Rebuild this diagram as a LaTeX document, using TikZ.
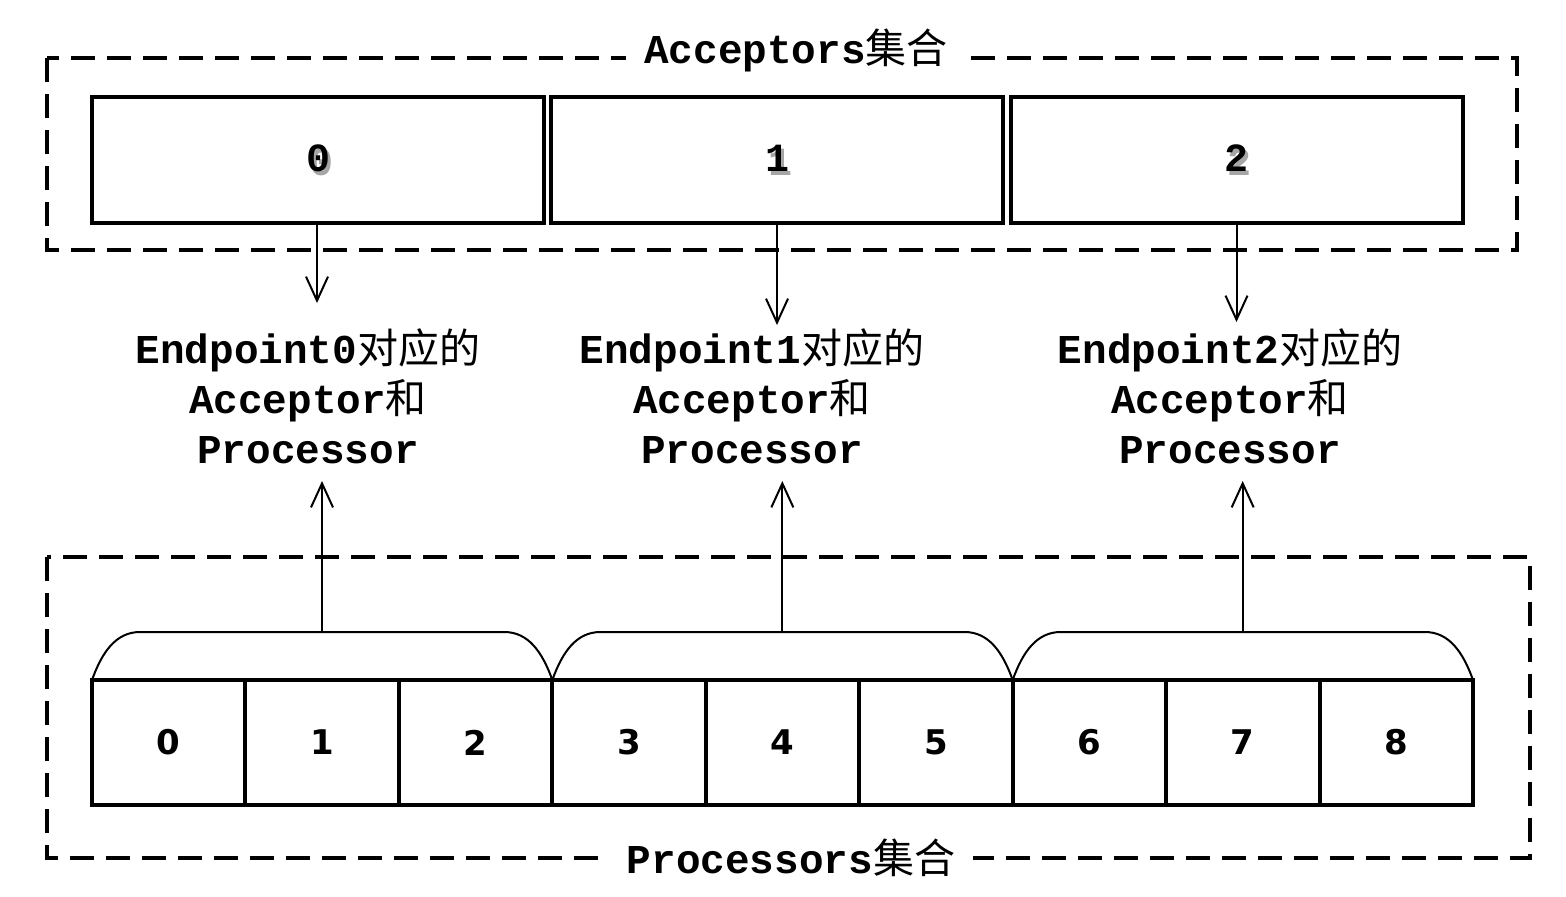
\documentclass[tikz,border=0pt]{standalone}
\usepackage{fontspec}
\usepackage{tikz}
\usetikzlibrary{arrows.meta}
\newfontfamily\codefont{Liberation Mono}
\newfontfamily\cjkfont{Noto Sans CJK SC}
\newfontfamily\digitfont{DejaVu Sans}
\newcommand{\shadownum}[1]{\makebox[0pt][l]{\hspace{1.5pt}\raisebox{-2pt}{\color{gray!70}#1}}#1}

\begin{document}
\begin{tikzpicture}[x=0.5pt,y=-0.5pt,
  group/.style={draw,line width=2pt,dash pattern=on 12pt off 6pt},
  accbox/.style={draw,line width=2pt,minimum width=226pt,minimum height=63pt,inner sep=0pt,
    font=\codefont\bfseries\fontsize{20}{24}\selectfont},
  cell/.style={draw,line width=2pt,minimum width=76.7pt,minimum height=62.5pt,inner sep=0pt,
    font=\digitfont\bfseries\fontsize{17}{20}\selectfont},
  title/.style={fill=white,inner xsep=9pt,inner ysep=2pt,font=\codefont\bfseries\fontsize{20.5}{24}\selectfont},
  eplabel/.style={align=center,inner sep=0pt,font=\codefont\bfseries\fontsize{20.5}{25}\selectfont},
  link/.style={-{Straight Barb[length=12pt,width=11pt]},line width=1pt}
]
\useasboundingbox[fill=white] (0,0) rectangle (1566,896);
% acceptors set
\draw[group] (47,58) rectangle (1517,250);
\node[title] (acctitle) at (796,50) {Acceptors{\cjkfont\mdseries 集合}};
\node[accbox] (a0) at (318,160) {\shadownum{0}};
\node[accbox] (a1) at (777,160) {\shadownum{1}};
\node[accbox] (a2) at (1236.5,160) {\shadownum{2}};
% endpoint labels
\node[eplabel] (ep0) at (308,396) {Endpoint0{\cjkfont\mdseries 对应的}\\Acceptor{\cjkfont\mdseries 和}\\Processor};
\node[eplabel] (ep1) at (752,396) {Endpoint1{\cjkfont\mdseries 对应的}\\Acceptor{\cjkfont\mdseries 和}\\Processor};
\node[eplabel] (ep2) at (1230,396) {Endpoint2{\cjkfont\mdseries 对应的}\\Acceptor{\cjkfont\mdseries 和}\\Processor};
% processors set
\draw[group] (47,557) rectangle (1530,858);
\node[title] (proctitle) at (791,858) {Processors{\cjkfont\mdseries 集合}};
\foreach \i in {0,...,8}{
  \node[cell] (p\i) at ({92+153.44*(\i+0.5)},742.5) {\i};
}
% one bracket per endpoint
\foreach \g in {0,1,2}{
  \pgfmathsetmacro{\xl}{92+460.33*\g}
  \pgfmathsetmacro{\xr}{\xl+460.33}
  \draw[line width=1pt] (\xl,680) .. controls (\xl+10,652) and (\xl+24,632) .. (\xl+48,632)
    -- (\xr-48,632) .. controls (\xr-24,632) and (\xr-10,652) .. (\xr,680);
  \coordinate (g\g) at (\xl+230,632);
}
% connectors
\draw[link] (a0.south -| 317,0) -- ([yshift=12.5pt]ep0.north -| 317,0);
\draw[link] (a1.south) -- ([yshift=1.5pt]ep1.north -| a1.south);
\draw[link] (a2.south) -- ([yshift=3pt]ep2.north -| a2.south);
\foreach \g in {0,1,2}{
  \draw[link] (g\g) -- ([yshift=-8.5pt]ep\g.south -| g\g);
}
\end{tikzpicture}
\end{document}
